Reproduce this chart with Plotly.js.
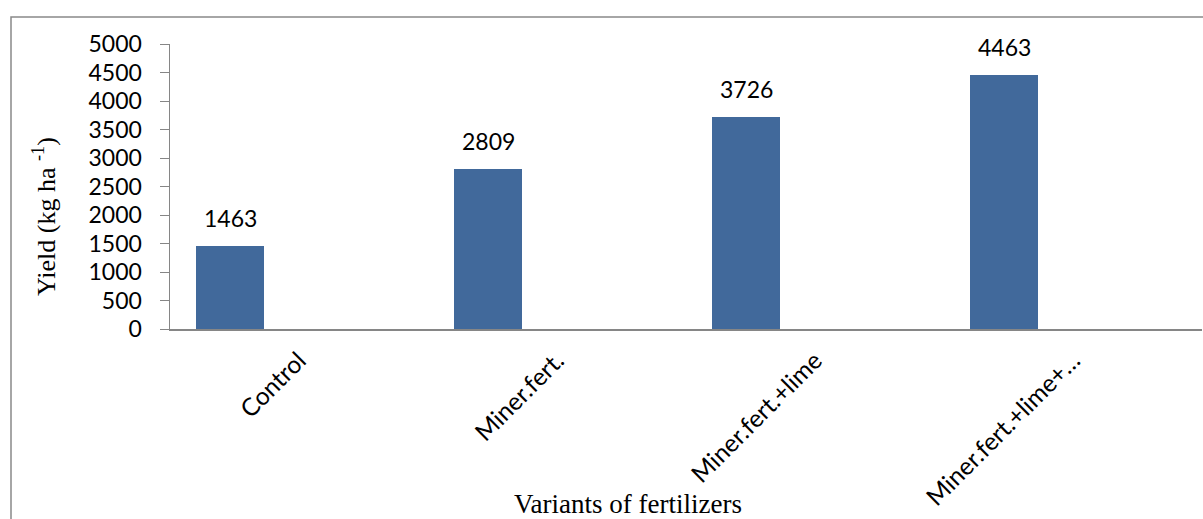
<!DOCTYPE html>
<html>
<head>
<meta charset="utf-8">
<script src="https://cdn.plot.ly/plotly-3.0.1.min.js"></script>
<style>html,body{margin:0;padding:0;background:#fff;}#chart{width:1203px;height:519px;}</style>
</head>
<body>
<div id="chart"></div>
<script>
const categories = ["Control", "Miner.fert.", "Miner.fert.+lime", "Miner.fert.+lime+…"];
const yieldValues = [1463, 2809, 3726, 4463];
const yTickVals = [0, 500, 1000, 1500, 2000, 2500, 3000, 3500, 4000, 4500, 5000];
const xTitle = "Variants of fertilizers";
const yTitle = "Yield (kg ha <sup>-1</sup>)";

const barWidth = 0.2636;
const barOffset = -0.3992;
const barColor = "#41699B";
const labelFont = {family: "Lato, 'Open Sans', sans-serif", size: 23, color: "#000"};
const catFont = {family: "Lato, 'Open Sans', sans-serif", size: 24.5, color: "#000"};
const serifFont = {family: "'Liberation Serif', 'Times New Roman', serif", size: 27, color: "#000"};
const ySerifFont = {family: "'Liberation Serif', 'Times New Roman', serif", size: 26, color: "#000"};

const trace = {
  type: "bar",
  x: categories,
  y: yieldValues,
  width: yieldValues.map(() => barWidth),
  offset: yieldValues.map(() => barOffset),
  marker: {color: barColor},
  hoverinfo: "x+y"
};

const annotations = yieldValues.map((v, i) => ({
  x: i + barOffset + barWidth / 2,
  y: v,
  xref: "x", yref: "y",
  text: String(v),
  showarrow: false,
  yanchor: "middle",
  yshift: 28,
  font: labelFont
}));
annotations.push({
  xref: "paper", yref: "paper",
  x: (628 - 170) / 1032, y: -(504 - 329) / 285,
  xanchor: "center", yanchor: "middle",
  text: xTitle,
  showarrow: false,
  font: serifFont
});
annotations.push({
  xref: "paper", yref: "paper",
  x: (44 - 170) / 1032, y: (329 - 217) / 285,
  xanchor: "center", yanchor: "middle",
  textangle: -90,
  text: yTitle,
  showarrow: false,
  font: ySerifFont
});

const layout = {
  width: 1203, height: 519,
  margin: {l: 170, r: 1, t: 44, b: 190},
  paper_bgcolor: "#fff", plot_bgcolor: "#fff",
  showlegend: false,
  bargap: 0,
  xaxis: {
    type: "category",
    showline: true, linecolor: "#868686", linewidth: 1.5,
    ticks: "", tickangle: -45,
    tickfont: catFont,
    ticklabelstandoff: 6,
    showgrid: false, zeroline: false,
    range: [-0.5, 3.5]
  },
  yaxis: {
    range: [0, 5000],
    tickvals: yTickVals,
    showline: true, linecolor: "#868686", linewidth: 1.5,
    ticks: "outside", ticklen: 9, tickcolor: "#868686",
    tickfont: labelFont,
    ticklabelstandoff: 13,
    showgrid: false, zeroline: false
  },
  annotations: annotations,
  shapes: [{
    type: "rect", xref: "paper", yref: "paper",
    x0: (11 - 170) / 1032, x1: 1.05,
    y0: -2, y1: 1 + (44 - 17) / 285,
    line: {color: "#898989", width: 1.5}
  }]
};

Plotly.newPlot("chart", [trace], layout, {displayModeBar: false, staticPlot: true});
</script>
</body>
</html>
